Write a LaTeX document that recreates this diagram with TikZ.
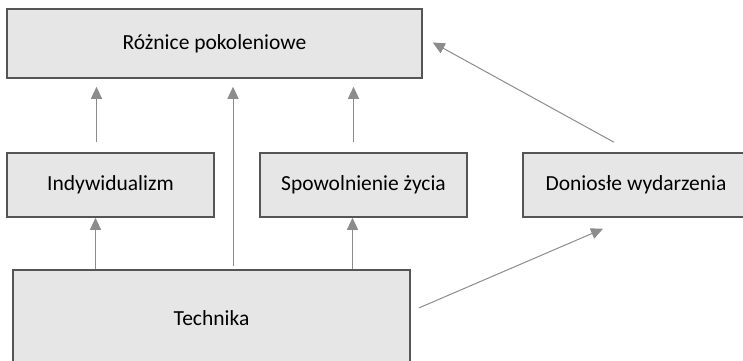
\documentclass[tikz,border=0pt]{standalone}
\usepackage{fontspec}
\setmainfont{Carlito}
\usepackage{xcolor}
\usetikzlibrary{arrows.meta}
\definecolor{boxfill}{HTML}{E6E6E6}
\definecolor{boxline}{HTML}{555555}
\definecolor{arrline}{HTML}{8C8C8C}

\begin{document}
\begin{tikzpicture}[x=1pt,y=-1pt,
box/.style={draw=boxline,fill=boxfill,line width=1.5pt,inner sep=0pt,font=\fontsize{21.5}{26}\selectfont},
arr/.style={draw=arrline,line width=1pt,-{Triangle[length=12pt,width=11pt]}}]
\useasboundingbox (0,0) rectangle (743,360);

\node [box,minimum width=415pt,minimum height=69pt] (roz) at (214.5,43.5) {Różnice pokoleniowe};
\node [box,minimum width=207pt,minimum height=64pt] (ind) at (110.5,185) {Indywidualizm};
\node [box,minimum width=207pt,minimum height=64pt] (spo) at (363.5,185) {Spowolnienie życia};
\node [box,minimum width=226pt,minimum height=64pt] (don) at (636,185) {Doniosłe wydarzenia};
\node [box,minimum width=397pt,minimum height=96pt] (tec) at (211.5,318) {Technika};

\draw [arr,shorten <=10pt,shorten >=8pt] ([xshift=-14pt]ind.north) -- ([xshift=-14pt]ind.north |- roz.south);
\draw [arr,shorten <=10pt,shorten >=8pt] ([xshift=-10pt]spo.north) -- ([xshift=-10pt]spo.north |- roz.south);
\draw [arr,shorten <=3pt,shorten >=8pt] ([xshift=21.5pt]tec.north) -- ([xshift=21.5pt]tec.north |- roz.south);
\draw [arr] ([xshift=-15pt]ind.south |- tec.north) -- ([xshift=-15pt]ind.south);
\draw [arr] ([xshift=-11pt]spo.south |- tec.north) -- ([xshift=-11pt]spo.south);
\draw [arr] ([xshift=-22pt,yshift=10pt]don.north) -- ([xshift=10pt,yshift=1pt]roz.east);
\draw [arr] ([xshift=8pt,yshift=10pt]tec.east) -- ([xshift=-33pt,yshift=-11pt]don.south);
\end{tikzpicture}
\end{document}
